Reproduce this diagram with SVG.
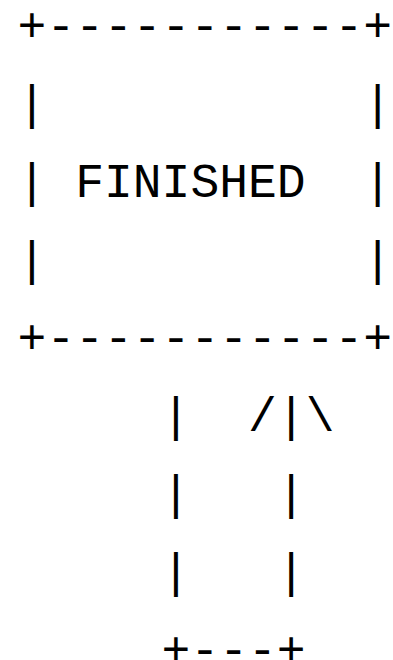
<svg xmlns="http://www.w3.org/2000/svg" width="393" height="660" viewBox="0 0 393 660">
<style>
text { font-family: "Liberation Mono", "DejaVu Sans Mono", monospace; font-size: 48px; fill: #000; white-space: pre; }
</style>
<rect width="393" height="660" fill="#fff"/>
<g id="finished" xml:space="preserve">
<text x="17.6" y="41">+-----------+</text>
<text x="17.6" y="119">|           |</text>
<text x="17.6" y="197">| FINISHED  |</text>
<text x="17.6" y="275">|           |</text>
<text x="17.6" y="353">+-----------+</text>
</g>
<g id="connectors" xml:space="preserve">
<text x="17.6" y="431">     |  /|\</text>
<text x="17.6" y="509">     |   |</text>
<text x="17.6" y="587">     |   |</text>
<text x="17.6" y="665">     +---+</text>
</g>
</svg>
